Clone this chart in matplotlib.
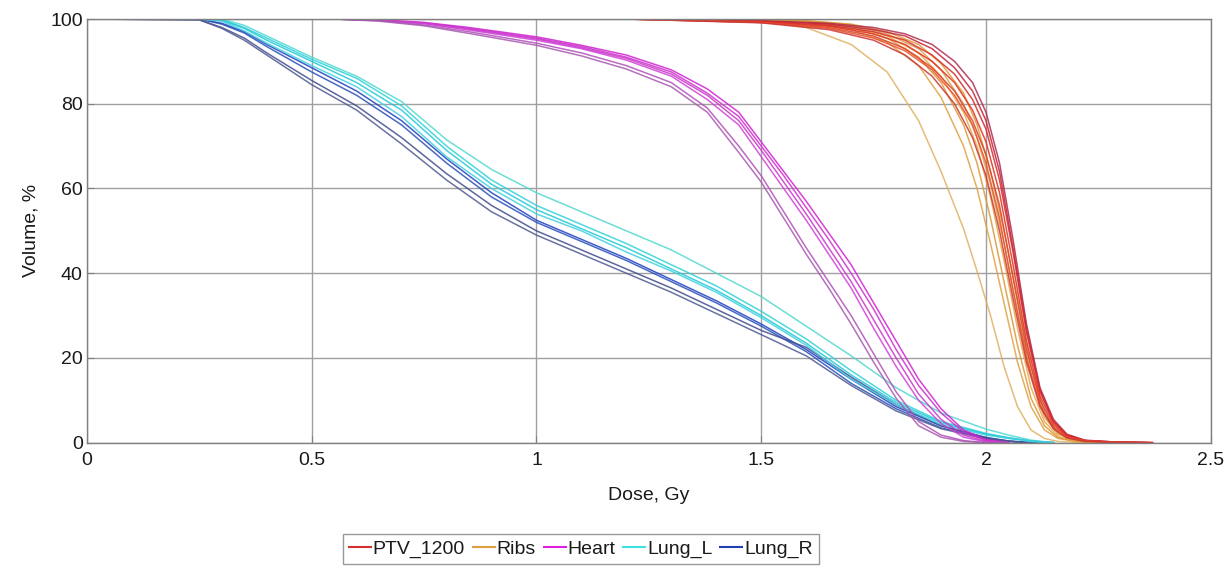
import matplotlib.pyplot as plt
from matplotlib.lines import Line2D

plt.rcParams['font.family'] = ['Liberation Sans', 'DejaVu Sans']

ptv_dose = [0, 1.2, 1.5, 1.65, 1.75, 1.82, 1.88, 1.93, 1.97, 2.0, 2.03, 2.06,
            2.09, 2.12, 2.15, 2.18, 2.22, 2.28, 2.37]
ptv_vols = [
    [100, 100, 99.6, 99.0, 98.0, 96.5, 94.0, 90.0, 85.0, 78.0, 66, 48, 28, 13, 5.5, 2.0, 0.6, 0.2, 0],
    [100, 100, 99.5, 98.8, 97.5, 96.0, 93.0, 88.5, 83.0, 76.0, 64, 46, 27, 12.5, 5.0, 1.8, 0.5, 0.2, 0],
    [100, 100, 99.4, 98.5, 97.0, 95.0, 91.5, 87.0, 81.0, 74.0, 62, 45, 26, 12, 5.0, 1.8, 0.5, 0.2, 0],
    [100, 100, 99.3, 98.3, 96.5, 94.0, 90.0, 85.0, 78.5, 71.0, 59, 42, 24, 11, 4.5, 1.5, 0.5, 0.1, 0],
    [100, 100, 99.2, 98.0, 96.0, 93.0, 88.5, 83.0, 76.0, 68.0, 56, 39, 22, 10, 4.0, 1.4, 0.4, 0.1, 0],
    [100, 100, 99.2, 97.8, 95.5, 92.5, 88.0, 82.0, 75.0, 66.0, 53, 36, 20, 9, 3.5, 1.2, 0.4, 0.1, 0],
    [100, 100, 99.1, 97.5, 95.0, 91.5, 86.5, 80.0, 72.0, 63.0, 50, 34, 19, 8.5, 3.3, 1.1, 0.3, 0.1, 0],
]

ribs_dose = [0, 1.4, 1.5, 1.6, 1.7, 1.78, 1.85, 1.9, 1.95, 1.98, 2.01, 2.04,
             2.07, 2.1, 2.13, 2.16, 2.2, 2.25]
ribs_vols = [
    [100, 100, 99.5, 98.0, 94.0, 87.5, 76.0, 64.0, 50.5, 40.5, 30, 18, 8.5, 3.0, 1.0, 0.3, 0.1, 0],
    [100, 100, 99.8, 99.3, 97.5, 94.5, 89.0, 81.5, 70.0, 60.0, 47, 33, 19, 8.5, 3.0, 1.0, 0.3, 0],
    [100, 100, 99.8, 99.4, 98.0, 95.5, 91.0, 85.0, 75.0, 66.0, 53, 38, 23, 10.5, 4.0, 1.2, 0.3, 0],
    [100, 100, 99.9, 99.5, 98.3, 96.0, 92.0, 86.5, 78.0, 70.0, 58, 43, 27, 13, 5.0, 1.5, 0.4, 0],
    [100, 100, 99.9, 99.6, 98.6, 96.5, 93.0, 88.0, 80.0, 72.0, 61, 47, 31, 16, 6.0, 2.0, 0.5, 0],
    [100, 100, 99.9, 99.6, 98.8, 97.0, 94.0, 89.5, 82.5, 75.0, 64, 50, 34, 18, 7.0, 2.2, 0.6, 0],
]

heart_dose = [0, 0.55, 0.65, 0.75, 0.85, 1.0, 1.1, 1.2, 1.3, 1.38, 1.45, 1.5,
              1.55, 1.6, 1.65, 1.7, 1.75, 1.8, 1.85, 1.9, 1.95, 2.0, 2.05]
heart_vols = [
    [100, 100, 99.8, 99.2, 98.0, 95.8, 93.8, 91.5, 88.0, 83.5, 78.0, 71.0, 64.0, 57.0, 49.5, 42.0, 33.0, 24.0, 15.0, 8.0, 3.0, 0.7, 0],
    [100, 100, 99.8, 99.1, 97.8, 95.5, 93.5, 91.0, 87.5, 82.5, 77.0, 70.0, 63.0, 55.5, 48.0, 40.0, 31.5, 22.0, 13.5, 7.0, 2.5, 0.5, 0],
    [100, 100, 99.7, 99.0, 97.6, 95.3, 93.2, 90.7, 87.0, 82.0, 76.0, 69.0, 61.5, 54.0, 46.0, 38.0, 29.0, 20.0, 11.5, 5.5, 1.8, 0.3, 0],
    [100, 100, 99.7, 98.9, 97.4, 95.0, 93.0, 90.3, 86.5, 81.0, 75.0, 67.5, 60.0, 52.5, 44.5, 36.5, 27.0, 18.0, 10.0, 4.5, 1.3, 0.2, 0],
    [100, 100, 99.6, 98.6, 97.0, 94.3, 92.0, 89.0, 85.0, 79.0, 70.0, 63.0, 54.5, 46.0, 38.0, 30.0, 21.0, 12.0, 5.0, 1.8, 0.5, 0, 0],
    [100, 100, 99.5, 98.4, 96.6, 93.8, 91.3, 88.2, 84.0, 78.0, 68.5, 61.5, 53.0, 44.5, 36.5, 28.0, 19.0, 10.5, 4.0, 1.3, 0.3, 0, 0],
]

lung_dose = [0, 0.25, 0.3, 0.35, 0.4, 0.5, 0.6, 0.7, 0.8, 0.9, 1.0, 1.1, 1.2,
             1.3, 1.4, 1.5, 1.6, 1.7, 1.8, 1.9, 2.0, 2.05, 2.1, 2.15]
lung_l_vols = [
    [100, 100, 100, 98.5, 96.0, 91.0, 86.5, 80.5, 71.5, 64.5, 59.0, 54.5, 50.0, 45.5, 40.0, 34.5, 27.5, 20.5, 13.0, 7.0, 3.2, 1.8, 0.6, 0],
    [100, 100, 99.8, 98.0, 95.5, 90.5, 86.0, 79.5, 70.0, 62.0, 56.0, 51.5, 47.0, 42.0, 37.0, 31.0, 24.5, 17.0, 10.0, 5.0, 2.2, 1.2, 0.4, 0],
    [100, 100, 99.7, 97.8, 95.0, 90.0, 85.0, 78.5, 69.0, 61.0, 55.0, 50.5, 46.0, 41.0, 36.0, 30.0, 23.5, 16.0, 9.5, 4.7, 2.0, 1.1, 0.4, 0],
    [100, 100, 99.5, 97.2, 94.3, 89.0, 84.0, 77.0, 67.5, 60.0, 54.0, 50.0, 45.0, 40.5, 35.5, 29.5, 23.0, 15.0, 9.0, 4.3, 1.8, 1.0, 0.3, 0],
]
lung_r_vols = [
    [100, 100, 99.0, 97.0, 94.0, 88.5, 83.0, 76.0, 67.0, 59.0, 52.5, 48.0, 43.5, 38.5, 33.5, 28.0, 22.0, 15.0, 8.5, 4.0, 1.2, 0.4, 0, 0],
    [100, 100, 98.8, 96.7, 93.5, 87.5, 82.0, 75.0, 66.0, 58.0, 52.0, 47.5, 43.0, 38.0, 33.0, 27.5, 21.5, 14.0, 8.0, 3.5, 1.0, 0.3, 0, 0],
    [100, 99.8, 98.0, 95.5, 92.0, 85.5, 79.5, 72.0, 63.5, 56.0, 50.0, 45.5, 41.0, 36.5, 31.5, 26.5, 22.5, 15.5, 9.0, 4.0, 1.2, 0.4, 0, 0],
    [100, 99.8, 97.8, 95.0, 91.5, 84.5, 78.5, 70.5, 62.0, 54.5, 49.0, 44.5, 40.0, 35.5, 30.5, 25.5, 20.5, 13.5, 7.5, 3.3, 0.9, 0.3, 0, 0],
]

structures = ['PTV_1200', 'Ribs', 'Heart', 'Lung_L', 'Lung_R']
legend_colors = ['#d03030', '#e0a040', '#e020e0', '#40e0e0', '#2040b0']
curve_colors = {
    'PTV_1200': ['#b02a50', '#c0243a', '#d42a2a', '#e03020', '#d8402a', '#e85028', '#cc3535'],
    'Ribs': ['#e0b060', '#e0a040', '#d89838', '#e8a848', '#d8a050', '#e09a30'],
    'Heart': ['#d020d0', '#cc30cc', '#c838c8', '#d040d8', '#b050b8', '#a858b0'],
    'Lung_L': ['#50d8d0', '#30d0d8', '#20c8d8', '#40d0e0'],
    'Lung_R': ['#2040c0', '#2850b8', '#404c8c', '#505a90'],
}
data = {
    'PTV_1200': (ptv_dose, ptv_vols),
    'Ribs': (ribs_dose, ribs_vols),
    'Heart': (heart_dose, heart_vols),
    'Lung_L': (lung_dose, lung_l_vols),
    'Lung_R': (lung_dose, lung_r_vols),
}


def main():
    fig = plt.figure(figsize=(12.28, 5.68), dpi=100)
    ax = fig.add_axes([0.0708, 0.2206, 0.9152, 0.7459])

    # lungs first so PTV/ribs sit on top, like the original
    for name in ['Lung_R', 'Lung_L', 'Heart', 'Ribs', 'PTV_1200']:
        dose, vols = data[name]
        for v, c in zip(vols, curve_colors[name]):
            ax.plot(dose, v, color=c, lw=1.1, alpha=0.85)

    ax.set_xlim(0, 2.5)
    ax.set_ylim(0, 100)
    ax.set_xticks([0, 0.5, 1, 1.5, 2, 2.5])
    ax.set_xticklabels(['0', '0.5', '1', '1.5', '2', '2.5'])
    ax.set_yticks([0, 20, 40, 60, 80, 100])
    ax.grid(True, color='#a0a0a0', lw=1.0)
    ax.set_axisbelow(True)
    for s in ax.spines.values():
        s.set_color('#808080')
        s.set_linewidth(1.0)
    ax.tick_params(direction='in', length=5, color='#808080', labelsize=14,
                   labelcolor='#1a1a1a')
    ax.tick_params(axis='x', pad=7)
    ax.tick_params(axis='y', pad=3)
    ax.set_xlabel('Dose, Gy', fontsize=14, color='#1a1a1a', labelpad=13)
    ax.set_ylabel('Volume, %', fontsize=14, color='#1a1a1a', labelpad=8)

    handles = [Line2D([0], [0], color=c, lw=1.5) for c in legend_colors]
    leg = fig.legend(handles, structures, loc='center', ncol=5,
                     bbox_to_anchor=(0.473, 0.0335), fontsize=14,
                     frameon=True, fancybox=False, handlelength=1.13,
                     handletextpad=0.1, columnspacing=0.4, borderpad=0.3,
                     borderaxespad=0)
    leg.get_frame().set_edgecolor('#808080')
    leg.get_frame().set_linewidth(1.0)
    for t in leg.get_texts():
        t.set_color('#1a1a1a')

    fig.savefig('out.png', dpi=100)


if __name__ == '__main__':
    main()
